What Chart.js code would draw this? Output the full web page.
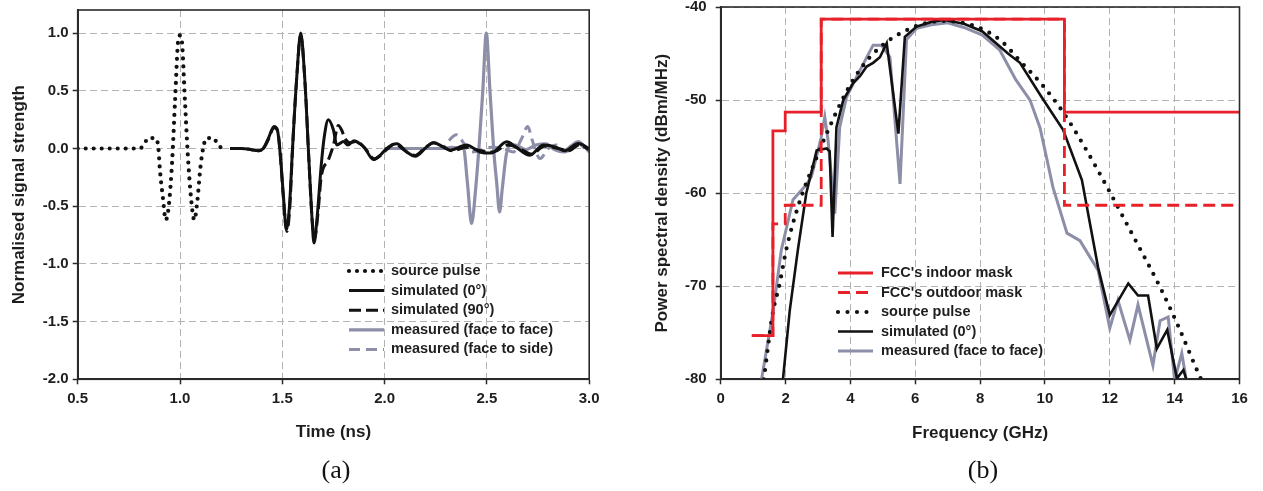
<!DOCTYPE html>
<html><head><meta charset="utf-8">
<script src="https://cdn.jsdelivr.net/npm/chart.js@4.4.1/dist/chart.umd.min.js"></script>
<style>
html,body{margin:0;padding:0;background:#fff;width:1263px;height:491px;overflow:hidden;position:relative}
canvas{position:absolute;top:0}
#ca{left:0px}
#cb{left:640px}
.cap{position:absolute;font-family:"Liberation Serif","DejaVu Serif",serif;font-size:26px;color:#111;top:455px;transform:translateX(-50%);line-height:30px}
</style></head><body>
<canvas id="ca" width="620" height="491" style="width:620px;height:491px"></canvas>
<canvas id="cb" width="623" height="491" style="width:623px;height:491px"></canvas>
<div class="cap" style="left:336px">(a)</div>
<div class="cap" style="left:983px">(b)</div>
<script>
// ---------- (a) time domain ----------
const timeTicks = [0.5, 1.0, 1.5, 2.0, 2.5, 3.0];
const strengthTicks = [-2.0, -1.5, -1.0, -0.5, 0.0, 0.5, 1.0];

const srcT = [0.5,0.55,0.6,0.65,0.7,0.75,0.8,0.82,0.845,0.878,0.894,0.902,0.918,0.93,0.945,0.962,0.976,0.992,1.0,1.008,1.024,1.038,1.055,1.07,1.085,1.1,1.114,1.13,1.163,1.19,1.228];
const srcV = [0,0,0,0,0,0,0,0.02,0.09,0.09,0.01,-0.19,-0.45,-0.62,-0.5,-0.1,0.42,0.95,0.98,0.95,0.42,-0.05,-0.45,-0.62,-0.45,-0.16,0.01,0.09,0.09,0.02,0];

const sim0T = [1.245,1.3,1.35,1.383,1.407,1.43,1.46,1.476,1.49,1.505,1.52,1.535,1.55,1.57,1.59,1.61,1.63,1.645,1.655,1.67,1.69,1.705,1.725,1.75,1.766,1.8,1.82,1.85,1.88,1.904,1.945,1.978,2.01,2.06,2.108,2.15,2.206,2.238,2.287,2.32,2.4,2.466,2.52,2.597,2.64,2.71,2.776,2.84,2.88,2.947,3.0];
const sim0V = [0,0,-0.01,-0.02,0,0.08,0.19,0.16,-0.05,-0.4,-0.7,-0.5,0,0.6,1.0,0.6,-0.1,-0.6,-0.82,-0.6,-0.15,0.1,0.25,0.16,0.03,0.06,0.03,0.066,0.04,0,-0.096,-0.06,0,0.04,-0.03,-0.067,0.014,0.05,0.014,-0.015,0.03,-0.03,-0.04,0.058,0.014,-0.058,0.03,0.01,-0.02,0.043,0];

const sim90T = [1.245,1.3,1.35,1.383,1.407,1.43,1.46,1.478,1.49,1.505,1.522,1.537,1.55,1.57,1.59,1.61,1.63,1.645,1.658,1.675,1.69,1.725,1.75,1.774,1.79,1.806,1.83,1.86,1.89,1.91,1.95,1.98,2.01,2.05,2.1,2.15,2.2,2.24,2.29,2.33,2.4,2.47,2.53,2.6,2.66,2.72,2.78,2.85,2.9,2.95,3.0];
const sim90V = [0,0,-0.01,-0.02,0,0.07,0.18,0.15,-0.05,-0.42,-0.72,-0.5,0,0.6,0.98,0.6,-0.1,-0.6,-0.78,-0.55,-0.25,-0.1,0.03,0.2,0.16,0.087,0.05,0.06,0.03,-0.01,-0.09,-0.06,-0.01,0.04,-0.02,-0.06,0.01,0.05,0.01,-0.02,0.01,-0.02,-0.03,0.03,0,-0.05,0.02,0,-0.02,0.03,-0.01];

const f2fT = [2.0,2.1,2.2,2.29,2.33,2.37,2.385,2.405,2.425,2.445,2.465,2.48,2.497,2.515,2.535,2.548,2.562,2.575,2.595,2.615,2.64,2.69,2.74,2.79,2.83,2.87,2.91,2.947,2.975,3.0];
const f2fV = [0,0,0,0,0.01,0,0.01,-0.3,-0.65,-0.35,0.1,0.5,1.0,0.5,-0.05,-0.3,-0.55,-0.35,-0.05,0.03,0.03,-0.01,0.03,0.04,-0.01,-0.03,0.02,0.06,0.02,-0.03];

const f2sT = [2.0,2.1,2.2,2.28,2.3,2.325,2.35,2.37,2.385,2.42,2.47,2.52,2.58,2.63,2.67,2.7,2.72,2.76,2.8,2.84,2.88,2.92,2.95,2.98,3.0];
const f2sV = [0,0,0,0,0.03,0.09,0.12,0.09,0.05,-0.03,-0.02,0.01,0,-0.03,0.087,0.19,0.08,-0.087,0,0.03,-0.03,0.01,0.04,0,-0.01];

// ---------- (b) frequency domain ----------
const freqTicks = [0, 2, 4, 6, 8, 10, 12, 14, 16];
const psdTicks = [-80, -70, -60, -50, -40];

const indoorF = [0.96, 1.61, 1.99, 3.1, 10.6, 16];
const indoorV = [-75.3, -53.3, -51.3, -41.3, -51.3, -51.3];
const outdoorF = [0.96, 1.61, 1.99, 3.1, 10.6, 16];
const outdoorV = [-75.3, -63.3, -61.3, -41.3, -61.3, -61.3];

const srcF = [1.33,1.6,1.82,2.02,2.38,3.0,3.37,3.73,4.09,4.6,5.22,5.73,6.14,6.9,7.6,8.2,8.7,9.23,9.9,10.56,11.2,11.94,12.72,13.55,14.1,14.75,14.9];
const srcP = [-80,-73,-69.7,-66.1,-61.5,-55.8,-52.8,-50.1,-47.8,-45.4,-43.5,-42.5,-41.9,-41.5,-41.8,-42.6,-43.8,-45.8,-48.3,-51.3,-54.9,-59.5,-64.6,-70.1,-74.2,-79.5,-80.6];

const simF = [1.92,2.13,2.38,2.64,2.96,3.27,3.36,3.45,3.57,3.78,4.08,4.3,4.5,4.7,4.91,5.12,5.48,5.68,6.04,6.5,6.9,7.5,8.06,8.86,9.23,9.9,10.56,11.14,11.64,12.0,12.57,12.87,13.18,13.45,13.77,14.07,14.27,14.4];
const simP = [-80,-72.6,-66.1,-60,-55.4,-55.2,-55.5,-64.7,-52.9,-50,-48.2,-47.4,-46.4,-46.0,-45.4,-43.9,-53.6,-43.2,-42.1,-41.6,-41.4,-41.8,-42.6,-45,-46,-49.7,-53.2,-58.6,-68,-73.1,-69.7,-71,-71,-76.7,-74.7,-79.9,-79,-80.5];

const measF = [1.26,1.62,1.87,2.23,2.64,2.8,2.96,3.1,3.21,3.31,3.52,3.67,3.88,4.19,4.7,4.96,5.22,5.53,5.73,6.04,6.5,7.0,7.5,8.06,8.6,9.1,9.54,9.85,10.25,10.68,11.08,11.64,12.0,12.25,12.62,12.87,13.33,13.55,13.8,14.0,14.22,14.38];
const measP = [-80,-72.6,-66.1,-60.7,-59.1,-58.2,-56,-54,-51.8,-54.3,-62.2,-52.9,-49.7,-47.5,-44.1,-44.1,-45.4,-59,-43.5,-42.3,-41.9,-41.7,-42.2,-43.0,-44.6,-47.8,-50,-53,-59.4,-64.3,-65.1,-68.3,-74.5,-71.5,-75.8,-72,-78.5,-73.7,-73.3,-80.1,-77.2,-80.5];

// ---------- helpers ----------
const pts = (xs, ys) => xs.map((x, i) => ({x: x, y: ys[i]}));
const GRAY = '#8d8ea8';
const RED = '#e8202a';
const INK = '#1e1e1e';

Chart.defaults.font.family = '"Liberation Sans", Arial, sans-serif';
Chart.defaults.font.weight = 'bold';
Chart.defaults.color = INK;

const legendPlugin = {
  id: 'customLegend',
  afterDatasetsDraw(chart, args, opts) {
    const ctx = chart.ctx;
    ctx.save();
    ctx.font = opts.font;
    ctx.textBaseline = 'middle';
    ctx.textAlign = 'left';
    chart.data.datasets.forEach((ds, i) => {
      const y = opts.y + i * opts.dy;
      ctx.beginPath();
      ctx.lineWidth = ds.borderWidth;
      ctx.strokeStyle = ds.borderColor;
      ctx.setLineDash(ds.borderDash || []);
      ctx.lineCap = ds.borderCapStyle || 'butt';
      ctx.moveTo(opts.x, y);
      ctx.lineTo(opts.x + opts.len, y);
      ctx.stroke();
      ctx.setLineDash([]);
      ctx.fillStyle = INK;
      ctx.fillText(ds.label, opts.x + opts.len + opts.gap, y);
    });
    ctx.restore();
  }
};
const boxPlugin = {
  id: 'frameBox',
  afterDraw(chart) {
    const a = chart.chartArea, ctx = chart.ctx;
    ctx.save();
    ctx.strokeStyle = '#2a2a2a';
    ctx.lineWidth = 1.6;
    ctx.setLineDash([]);
    ctx.strokeRect(a.left, a.top, a.right - a.left, a.bottom - a.top);
    ctx.restore();
  }
};

function axisX(min, max, ticks, title, fmt, H, labPad) {
  return {
    type: 'linear', min: min, max: max,
    afterBuildTicks: s => { s.ticks = ticks.map(v => ({value: v})); },
    afterFit: s => { s.height = H; s.paddingLeft = 0; s.paddingRight = 0; },
    ticks: {font: {size: 15, weight: 'bold'}, color: INK, padding: labPad, maxRotation: 0, autoSkip: false, callback: fmt},
    grid: {color: '#b3b3b3', lineWidth: 1, drawTicks: true, tickLength: 5, tickColor: '#2a2a2a', tickWidth: 1.5, tickBorderDash: []},
    border: {display: true, color: '#2a2a2a', width: 2, dash: [7, 4]},
    title: {display: true, text: title, font: {size: 17, weight: 'bold'}, color: INK, padding: 0}
  };
}
function axisY(min, max, ticks, title, fmt, W, labPad) {
  return {
    type: 'linear', min: min, max: max,
    afterBuildTicks: s => { s.ticks = ticks.map(v => ({value: v})); },
    afterFit: s => { s.width = W; s.paddingTop = 0; s.paddingBottom = 0; },
    ticks: {font: {size: 15, weight: 'bold'}, color: INK, padding: labPad, autoSkip: false, callback: fmt},
    grid: {color: '#b3b3b3', lineWidth: 1, drawTicks: true, tickLength: 5, tickColor: '#2a2a2a', tickWidth: 1.5, tickBorderDash: []},
    border: {display: true, color: '#2a2a2a', width: 2, dash: [7, 4]},
    title: {display: true, text: title, font: {size: 17, weight: 'bold'}, color: INK, padding: 0}
  };
}

// ---------- chart (a) ----------
new Chart(document.getElementById('ca'), {
  type: 'line',
  data: {
    datasets: [
      {label: 'source pulse', data: pts(srcT, srcV), borderColor: '#111', borderWidth: 4.2, borderDash: [0, 8], borderCapStyle: 'round', cubicInterpolationMode: 'monotone'},
      {label: 'simulated (0°)', data: pts(sim0T, sim0V), borderColor: '#111', borderWidth: 3, cubicInterpolationMode: 'monotone'},
      {label: 'simulated (90°)', data: pts(sim90T, sim90V), borderColor: '#111', borderWidth: 3, borderDash: [12, 5], cubicInterpolationMode: 'monotone'},
      {label: 'measured (face to face)', data: pts(f2fT, f2fV), borderColor: GRAY, borderWidth: 3.2, cubicInterpolationMode: 'monotone'},
      {label: 'measured (face to side)', data: pts(f2sT, f2sV), borderColor: GRAY, borderWidth: 3, borderDash: [11, 6], cubicInterpolationMode: 'monotone'}
    ]
  },
  options: {
    responsive: false, animation: false, devicePixelRatio: 1,
    layout: {padding: {left: 8.8, top: 10, right: 30.8, bottom: 48.8}},
    elements: {point: {radius: 0}},
    plugins: {legend: {display: false}, tooltip: {enabled: false},
      customLegend: {x: 349, y: 271, dy: 19.6, len: 35, gap: 7, font: 'bold 14.5px "Liberation Sans", Arial, sans-serif'}},
    scales: {
      x: axisX(0.5, 3.0, timeTicks, 'Time (ns)', v => Number(v).toFixed(1), 62.9, 6),
      y: axisY(-2.0, 1.2, strengthTicks, 'Normalised signal strength', v => Number(v).toFixed(1), 68.9, 4)
    }
  },
  plugins: [legendPlugin, boxPlugin]
});

// ---------- chart (b) ----------
new Chart(document.getElementById('cb'), {
  type: 'line',
  data: {
    datasets: [
      {label: "FCC's indoor mask", data: pts(indoorF, indoorV), borderColor: RED, borderWidth: 2.8, stepped: 'before'},
      {label: "FCC's outdoor mask", data: pts(outdoorF, outdoorV), borderColor: RED, borderWidth: 2.8, borderDash: [12, 6], stepped: 'before'},
      {label: 'source pulse', data: pts(srcF, srcP), borderColor: '#111', borderWidth: 4.2, borderDash: [0, 9.5], borderCapStyle: 'round', cubicInterpolationMode: 'monotone'},
      {label: 'simulated (0°)', data: pts(simF, simP), borderColor: '#111', borderWidth: 2.6},
      {label: 'measured (face to face)', data: pts(measF, measP), borderColor: GRAY, borderWidth: 3}
    ]
  },
  options: {
    responsive: false, animation: false, devicePixelRatio: 1,
    layout: {padding: {left: 11.8, top: 7, right: 23.5, bottom: 47.8}},
    elements: {point: {radius: 0}},
    plugins: {legend: {display: false}, tooltip: {enabled: false},
      customLegend: {x: 198, y: 273, dy: 19.5, len: 35, gap: 8, font: 'bold 14.5px "Liberation Sans", Arial, sans-serif'}},
    scales: {
      x: axisX(0, 16, freqTicks, 'Frequency (GHz)', v => String(v), 63.9, 6),
      y: axisY(-80, -40, psdTicks, 'Power spectral density (dBm/MHz)', v => String(v), 68.9, 9)
    }
  },
  plugins: [legendPlugin, boxPlugin]
});
</script>
</body></html>
